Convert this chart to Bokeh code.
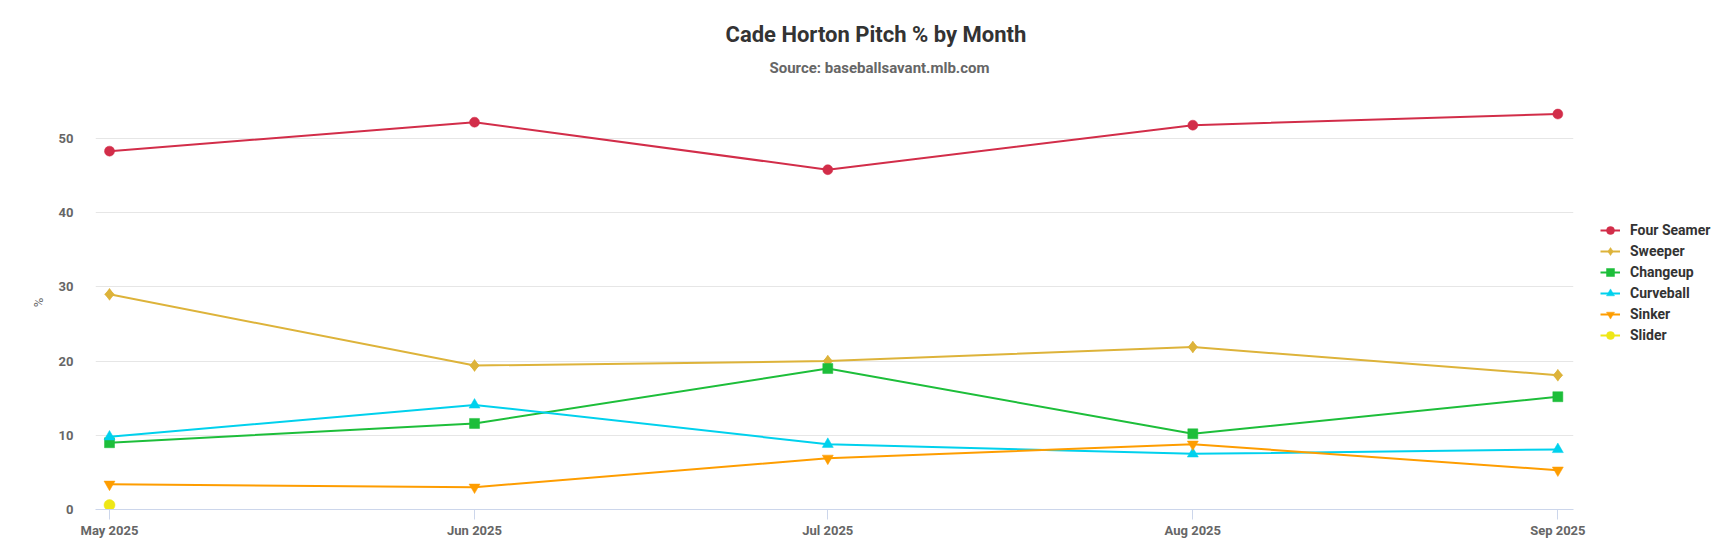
from datetime import datetime, timedelta
from bokeh.plotting import figure
from bokeh.models import (Range1d, FixedTicker, DatetimeTickFormatter, Legend, LegendItem, Title)
from bokeh.embed import file_html
from bokeh.resources import INLINE

# ---- data ----
months = ["2025-05-01", "2025-06-01", "2025-07-01", "2025-08-01", "2025-09-01"]
four_seamer = [48.3, 52.2, 45.8, 51.8, 53.3]
sweeper = [29.0, 19.4, 20.0, 21.9, 18.1]
changeup = [9.0, 11.6, 19.0, 10.2, 15.2]
curveball = [9.8, 14.1, 8.8, 7.5, 8.1]
sinker = [3.4, 3.0, 6.9, 8.8, 5.3]
slider_months = ["2025-05-01"]
slider = [0.6]
y_ticks = [0, 10, 20, 30, 40, 50]

title_text = "Cade Horton Pitch % by Month"
subtitle_text = "Source: baseballsavant.mlb.com"

dates = [datetime.strptime(m, "%Y-%m-%d") for m in months]
slider_dates = [datetime.strptime(m, "%Y-%m-%d") for m in slider_months]

FONT = "Roboto"

p = figure(frame_width=1478, frame_height=414, x_axis_type="datetime", output_backend="svg",
           toolbar_location=None, title=None,
           x_range=Range1d(dates[0] - timedelta(days=1.19), dates[-1] + timedelta(days=1.33)),
           y_range=Range1d(0, 55.8),
           min_border_left=95, min_border_right=144, min_border_top=95, min_border_bottom=35)
p.outline_line_color = None
p.background_fill_color = "white"
p.border_fill_color = "white"

# axes
xa = p.xaxis[0]
xa.ticker = FixedTicker(ticks=[d.timestamp() * 1000 for d in dates])
xa.formatter = DatetimeTickFormatter(days="%b %Y", months="%b %Y", years="%b %Y",
                                     hours="%b %Y", hourmin="%b %Y")
xa.axis_line_color = "#ccd6eb"
xa.major_tick_line_color = "#ccd6eb"
xa.major_tick_out = 10
xa.major_tick_in = 0
xa.minor_tick_line_color = None
xa.major_label_standoff = 3
xa.major_label_text_font = FONT
xa.major_label_text_font_style = "bold"
xa.major_label_text_font_size = "13px"
xa.major_label_text_color = "#666666"

ya = p.yaxis[0]
ya.ticker = FixedTicker(ticks=y_ticks)
ya.axis_line_color = None
ya.major_tick_line_color = None
ya.minor_tick_line_color = None
ya.major_tick_out = 0
ya.major_tick_in = 0
ya.major_label_standoff = 22
ya.major_label_text_font = FONT
ya.major_label_text_font_style = "bold"
ya.major_label_text_font_size = "13px"
ya.major_label_text_color = "#666666"
ya.axis_label = "%"
ya.axis_label_standoff = 10
ya.axis_label_text_font = FONT
ya.axis_label_text_font_style = "normal"
ya.axis_label_text_font_size = "13px"
ya.axis_label_text_color = "#666666"

p.xgrid.grid_line_color = None
p.ygrid.grid_line_color = "#e6e6e6"
p.ygrid.grid_line_width = 1

# name, x, y, colour, marker, size
series = [
    ("Four Seamer", dates, four_seamer, "#D22D49", "circle", 10),
    ("Sweeper", dates, sweeper, "#DDB33A", "diamond", 12),
    ("Changeup", dates, changeup, "#1DBE3A", "square", 10),
    ("Curveball", dates, curveball, "#00D1ED", "triangle", 11),
    ("Sinker", dates, sinker, "#FE9D00", "inverted_triangle", 11),
    ("Slider", slider_dates, slider, "#EEE716", "circle", 11),
]

items = []
for name, xs, ys, color, marker, size in series:
    lr = p.line(xs, ys, line_color=color, line_width=2)
    sr = p.scatter(xs, ys, marker=marker, size=size,
                   fill_color=color, line_color=color, line_width=0.5)
    if marker == "diamond":
        # widen the diamond so it reads as a rotated square, like the original
        p.scatter(xs, ys, marker="square", size=7, angle=0.785398,
                  fill_color=color, line_color=color, line_width=0.5)
    items.append(LegendItem(label=name, renderers=[lr, sr]))

legend = Legend(items=items, location=(27, 164), glyph_width=20, glyph_height=20,
                label_height=20, spacing=1, label_standoff=10, padding=0, margin=0,
                border_line_alpha=0, background_fill_alpha=0,
                label_text_font=FONT, label_text_font_style="bold",
                label_text_font_size="14px", label_text_color="#333333")
p.add_layout(legend, "right")

# subtitle first (nearest the frame), then the main title above it
p.add_layout(Title(text=subtitle_text, align="left", offset=674, standoff=38,
                   text_font=FONT, text_font_style="bold", text_font_size="15px",
                   text_color="#666666"), "above")
p.add_layout(Title(text=title_text, align="left", offset=630, standoff=-18,
                   text_font=FONT, text_font_style="bold", text_font_size="22px",
                   text_color="#333333"), "above")

open("out.html", "w").write(file_html(p, INLINE))
